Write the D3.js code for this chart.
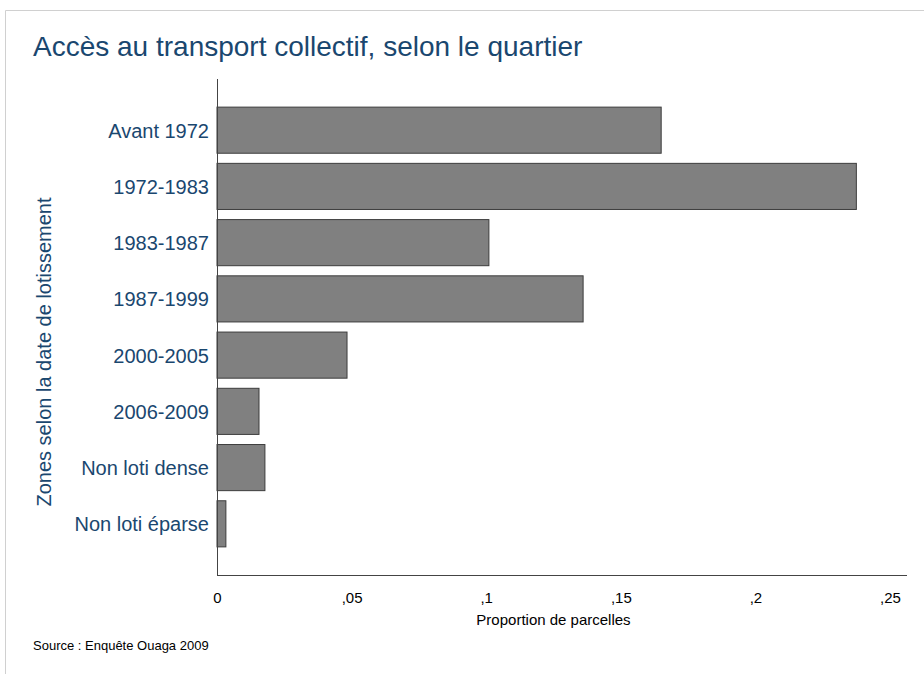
<!DOCTYPE html>
<html>
<head>
<meta charset="utf-8">
<script src="https://cdn.jsdelivr.net/npm/d3@7"></script>
<style>
  body { margin: 0; background: #fff; }
  text { font-family: "Liberation Sans", Arial, Helvetica, sans-serif; }
</style>
</head>
<body>
<div id="chart"></div>
<script>
// data
var zones = ["Avant 1972", "1972-1983", "1983-1987", "1987-1999",
             "2000-2005", "2006-2009", "Non loti dense", "Non loti éparse"];
var proportions = [0.165, 0.2375, 0.101, 0.136, 0.0483, 0.0156, 0.0178, 0.0033];
var xTicks = [0, 0.05, 0.1, 0.15, 0.2, 0.25];
var xTickLabels = ["0", ",05", ",1", ",15", ",2", ",25"];

var W = 924, H = 674;
var navy = "#1a476f";

// plot area
var margin = {top: 79, right: 17, bottom: 99, left: 217},
    width = W - margin.left - margin.right,
    height = H - margin.top - margin.bottom;

var svg = d3.select("#chart")
  .append("svg")
  .attr("width", W)
  .attr("height", H);

// light frame round the graph
svg.append("path")
  .attr("d", "M5.5,674 V10.5 H924")
  .attr("fill", "none")
  .attr("stroke", "#d0d0d0")
  .attr("stroke-width", 1);

var g = svg.append("g")
  .attr("transform", "translate(" + margin.left + "," + margin.top + ")");

var x = d3.scaleLinear()
  .domain([0, 0.25])
  .range([0, 673]);

var y = d3.scaleBand()
  .domain(zones)
  .range([0, height])
  .paddingInner(0.18)
  .paddingOuter(0.5);

// bars
g.selectAll("rect.bar")
  .data(zones)
  .enter().append("rect")
  .attr("class", "bar")
  .attr("x", x(0))
  .attr("y", function(d) { return y(d); })
  .attr("width", function(d, i) { return x(proportions[i]) - x(0); })
  .attr("height", y.bandwidth())
  .attr("fill", "#808080")
  .attr("stroke", "#3c3c3c")
  .attr("stroke-width", 1);

// y axis (labels only + line)
var yAxis = g.append("g")
  .call(d3.axisLeft(y).tickSize(0).tickPadding(8));
yAxis.select(".domain").attr("stroke", "#444").attr("d", "M0.5,0V" + height);
yAxis.selectAll("text")
  .attr("fill", navy)
  .attr("dy", "0.38em")
  .style("font-size", "20px");

// x axis
var xAxis = g.append("g")
  .attr("transform", "translate(0," + height + ")")
  .call(d3.axisBottom(x)
    .tickValues(xTicks)
    .tickSize(0)
    .tickPadding(17)
    .tickFormat(function(d, i) { return xTickLabels[i]; }));
xAxis.select(".domain").attr("stroke", "#444").attr("d", "M0,0.5H" + width);
xAxis.selectAll("text")
  .attr("fill", "#000")
  .style("font-size", "15px");

// titles
svg.append("text")
  .attr("x", 33)
  .attr("y", 56)
  .attr("fill", navy)
  .style("font-size", "28px")
  .text("Accès au transport collectif, selon le quartier");

svg.append("text")
  .attr("transform", "translate(51,352) rotate(-90)")
  .attr("text-anchor", "middle")
  .attr("fill", navy)
  .style("font-size", "20px")
  .text("Zones selon la date de lotissement");

svg.append("text")
  .attr("x", margin.left + x(0.125))
  .attr("y", 625)
  .attr("text-anchor", "middle")
  .attr("fill", "#000")
  .style("font-size", "15px")
  .text("Proportion de parcelles");

svg.append("text")
  .attr("x", 33)
  .attr("y", 650)
  .attr("fill", "#000")
  .style("font-size", "13px")
  .text("Source : Enquête Ouaga 2009");
</script>
</body>
</html>
